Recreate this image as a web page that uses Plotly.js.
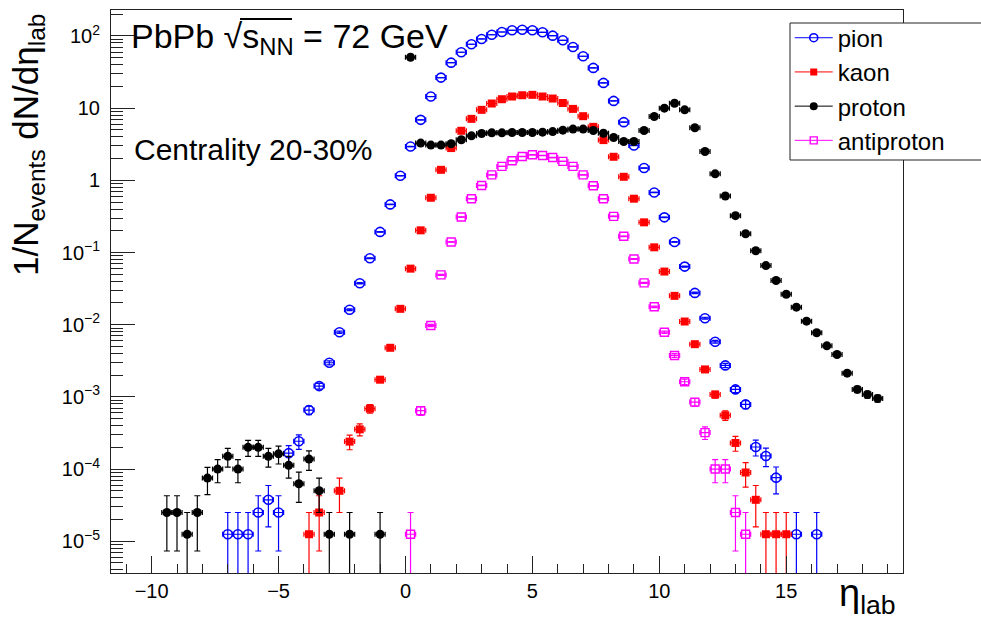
<!DOCTYPE html>
<html>
<head>
<meta charset="utf-8">
<script src="https://cdn.plot.ly/plotly-3.0.1.min.js"></script>
<style>html,body{margin:0;padding:0;background:#fff;}#chart{width:981px;height:631px;}</style>
</head>
<body>
<div id="chart"></div>
<script>
// ---- data ----
const pionEta = [-7.0,-6.6,-6.2,-5.8,-5.4,-5.0,-4.6,-4.2,-3.8,-3.4,-3.0,-2.6,-2.2,-1.8,-1.4,-1.0,-0.6,-0.2,
  0.2,0.6,1.0,1.4,1.8,2.2,2.6,3.0,3.4,3.8,4.2,4.6,5.0,5.4,5.8,6.2,6.6,7.0,7.4,7.8,8.2,8.6,9.0,9.4,9.8,
  10.2,10.6,11.0,11.4,11.8,12.2,12.6,13.0,13.4,13.8,14.2,14.6,15.4,16.2];
const pionVal = [1.25e-5,1.25e-5,1.25e-5,2.5e-5,3.75e-5,2.5e-5,1.66e-4,2.43e-4,6.56e-4,1.41e-3,2.97e-3,7.87e-3,0.0161,0.0375,0.0832,0.193,0.464,1.16,
  2.94,6.89,14.5,26.5,42.7,59.5,76.8,90.9,104,113.6,120,122,120,112.5,101,87.2,70.5,52.4,36.1,22.4,12.6,6.4,3.04,1.48,0.68,
  0.307,0.140,0.0638,0.0276,0.0123,0.0058,0.00273,0.00127,7.87e-4,2.02e-4,1.52e-4,7.6e-5,1.25e-5,1.25e-5];

const kaonEta = [-3.8,-3.4,-2.6,-2.2,-1.8,-1.4,-1.0,-0.6,-0.2,0.2,0.6,1.0,1.4,1.8,2.2,2.6,3.0,3.4,3.8,4.2,4.6,5.0,
  5.4,5.8,6.2,6.6,7.0,7.4,7.8,8.2,8.6,9.0,9.4,9.8,10.2,10.6,11.0,11.4,11.8,12.2,12.6,13.0,13.4,13.8,14.2,14.6,15.0];
const kaonVal = [1.25e-5,2.5e-5,5.0e-5,2.40e-4,3.55e-4,6.87e-4,1.73e-3,4.79e-3,0.0166,0.0598,0.203,0.574,1.40,2.80,4.86,7.11,9.48,11.6,13.3,14.5,15.1,15.3,
  14.5,13.6,11.8,9.77,7.74,5.51,3.61,2.12,1.12,0.557,0.262,0.118,0.0545,0.0251,0.01107,0.00537,0.0024,0.00108,5.55e-4,2.30e-4,8.96e-5,3.75e-5,1.25e-5,1.25e-5,1.25e-5];

const protonEta = [-9.4,-9.0,-8.6,-8.2,-7.8,-7.4,-7.0,-6.6,-6.2,-5.8,-5.4,-5.0,-4.6,-4.2,-3.8,-3.4,-3.0,-2.2,-1.0,
  0.2,0.6,1.0,1.4,1.8,2.2,2.6,3.0,3.4,3.8,4.2,4.6,5.0,5.4,5.8,6.2,6.6,7.0,7.4,7.8,8.2,8.6,9.0,9.4,9.8,10.2,10.6,11.0,
  11.4,11.8,12.2,12.6,13.0,13.4,13.8,14.2,14.6,15.0,15.4,15.8,16.2,16.6,17.0,17.4,17.8,18.2,18.6];
const protonVal = [2.5e-5,2.5e-5,1.25e-5,2.5e-5,7.5e-5,1.0e-4,1.5e-4,1.0e-4,2.0e-4,2.0e-4,1.5e-4,1.625e-4,1.125e-4,6.25e-5,1.375e-4,5.0e-5,1.25e-5,1.25e-5,1.25e-5,
  50.7,3.28,3.08,3.08,3.21,3.65,4.14,4.46,4.55,4.55,4.6,4.6,4.6,4.65,4.74,4.96,5.13,5.13,4.9,4.5,3.92,3.45,3.45,4.9,7.66,10.0,11.7,9.48,
  5.35,2.51,1.23,0.607,0.324,0.182,0.106,0.0659,0.0409,0.0264,0.0175,0.0112,0.00773,0.0051,0.00387,0.00213,0.00127,0.00108,9.53e-4];

const antiprotonEta = [0.2,0.6,1.0,1.4,1.8,2.2,2.6,3.0,3.4,3.8,4.2,4.6,5.0,5.4,5.8,6.2,6.6,7.0,7.4,7.8,8.2,8.6,9.0,9.4,9.8,
  10.2,10.6,11.0,11.4,11.8,12.2,12.6,13.0,13.4];
const antiprotonVal = [1.25e-5,6.44e-4,0.00975,0.049,0.140,0.31,0.557,0.85,1.19,1.56,1.87,2.14,2.26,2.21,2.07,1.83,1.56,1.19,0.84,0.557,0.317,0.168,0.0815,0.038,0.0177,
  0.00787,0.00375,0.00162,8.47e-4,3.2e-4,1.0e-4,1.0e-4,2.5e-5,1.25e-5];

const seriesNames = ['pion','kaon','proton','antiproton'];
const countUnit = 1.25e-5;     // value of a single count (1/N_events)
const binHalfWidth = 0.2;      // half of the eta bin width

const yTickVals = [1e2,1e1,1,1e-1,1e-2,1e-3,1e-4,1e-5];
const yTickText = ['10<sup>2</sup>','10','1','10<sup>\u22121</sup>','10<sup>\u22122</sup>','10<sup>\u22123</sup>','10<sup>\u22124</sup>','10<sup>\u22125</sup>'];

// ---- build ----
const FONT = 'Liberation Sans, Arial, Helvetica, sans-serif';
const styles = {
  pion:       {color:'#0000ff', symbol:'circle-open', size:9, lw:1.6},
  kaon:       {color:'#ff0000', symbol:'square',      size:8, lw:0},
  proton:     {color:'#000000', symbol:'circle',      size:9, lw:0},
  antiproton: {color:'#ff00ff', symbol:'square-open', size:8, lw:1.4}
};
const dataSets = {
  pion: [pionEta, pionVal], kaon: [kaonEta, kaonVal],
  proton: [protonEta, protonVal], antiproton: [antiprotonEta, antiprotonVal]
};

const traces = [];
seriesNames.forEach(name => {
  const [xs, ys] = dataSets[name];
  const st = styles[name];
  const eUp = ys.map(v => Math.sqrt(v * countUnit));
  const eDn = ys.map((v, i) => Math.min(eUp[i], v * 0.99999));
  traces.push({
    type:'scatter', mode:'markers', x:xs, y:ys, name:name, showlegend:false,
    marker:{symbol:st.symbol, size:st.size, color:st.color, line:{color:st.color, width:st.lw}},
    error_y:{type:'data', symmetric:false, array:eUp, arrayminus:eDn, color:st.color, thickness:1.2, width:3},
    error_x:{type:'constant', value:binHalfWidth, color:st.color, thickness:1.2, width:2.5}
  });
});
// legend entries (line + marker like the ROOT legend)
seriesNames.forEach(name => {
  const st = styles[name];
  traces.push({
    type:'scatter', mode:'lines+markers', x:[null], y:[null], name:name, showlegend:true,
    line:{color:st.color, width:1},
    marker:{symbol:st.symbol, size:st.size-1, color:st.color, line:{color:st.color, width:st.lw}}
  });
});

const minorY = [];
for (let e = -6; e <= 2; e++) for (let k = 2; k <= 9; k++) minorY.push(k * Math.pow(10, e));

const layout = {
  width:981, height:631,
  margin:{l:111, r:78, t:10, b:58},
  paper_bgcolor:'#ffffff', plot_bgcolor:'#ffffff',
  font:{family:FONT, color:'#000'},
  showlegend:true,
  xaxis:{
    range:[-11.6, 19.6], showgrid:false, zeroline:false,
    showline:true, linecolor:'#222', linewidth:1, mirror:true,
    ticks:'inside', ticklen:17, tickcolor:'#222', tickwidth:1,
    tick0:0, dtick:5, ticklabelstandoff:0,
    tickfont:{size:20, family:FONT},
    minor:{dtick:1, ticks:'inside', ticklen:9, tickcolor:'#222', tickwidth:1}
  },
  yaxis:{
    type:'log', range:[-5.44, 2.36], showgrid:false, zeroline:false,
    showline:true, linecolor:'#222', linewidth:1, mirror:true,
    ticks:'inside', ticklen:24, tickcolor:'#222', tickwidth:1,
    tickmode:'array', tickvals:yTickVals, ticktext:yTickText, ticklabelstandoff:6,
    tickfont:{size:20, family:FONT},
    minor:{tickmode:'array', tickvals:minorY, ticks:'inside', ticklen:12, tickcolor:'#222', tickwidth:1}
  },
  legend:{
    x:0.857, y:0.990, xanchor:'left', yanchor:'top',
    bgcolor:'rgba(0,0,0,0)', borderwidth:0,
    font:{size:24, family:FONT}, tracegroupgap:0, itemwidth:38
  },
  annotations:[
    {text:'PbPb \u221As<sub>NN</sub> = 72 GeV', xref:'paper', yref:'paper', x:0.0227, y:0.950,
     xanchor:'left', yanchor:'middle', showarrow:false, font:{size:34, family:FONT}},
    {text:'Centrality 20-30%', xref:'paper', yref:'paper', x:0.0265, y:0.752,
     xanchor:'left', yanchor:'middle', showarrow:false, font:{size:30, family:FONT}},
    {text:'1/N<sub>events</sub> dN/d\u03B7<sub>lab</sub>', xref:'paper', yref:'paper', x:-0.1048, y:0.9964,
     xanchor:'center', yanchor:'top', textangle:-90, showarrow:false, font:{size:35, family:FONT}},
    {text:'\u03B7<sub>lab</sub>', xref:'paper', yref:'paper', x:0.994, y:0.005,
     xanchor:'right', yanchor:'top', showarrow:false, font:{size:38, family:FONT}}
  ],
  shapes:[
    {type:'line', xref:'paper', yref:'paper', x0:(240-111)/792, x1:(292-111)/792, y0:(573-19)/563, y1:(573-19)/563,
     line:{color:'#000', width:2}},
    // legend frame
    {type:'rect', xref:'paper', yref:'paper', layer:'above',
     x0:(790-111)/792, x1:(986-111)/792, y0:(573-160)/563, y1:(573-23)/563,
     fillcolor:'#ffffff', line:{color:'#222', width:1}}
  ]
};

Plotly.newPlot('chart', traces, layout, {displayModeBar:false, staticPlot:true});
</script>
</body>
</html>
